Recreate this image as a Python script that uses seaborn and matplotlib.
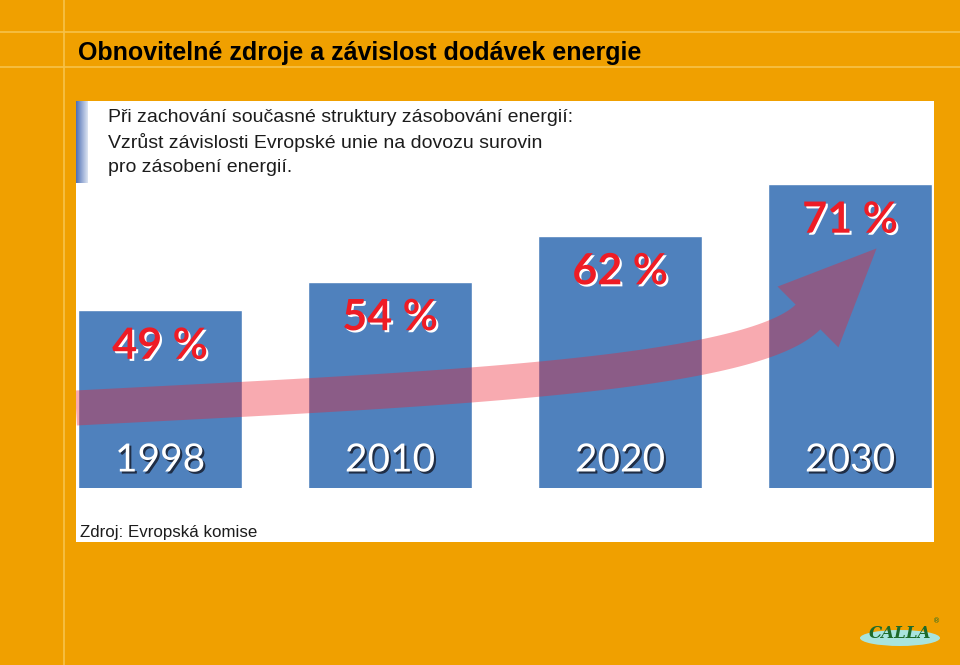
import numpy as np
import pandas as pd
import seaborn as sns
import matplotlib.pyplot as plt
from matplotlib import patheffects
from matplotlib.lines import Line2D
from matplotlib.patches import Rectangle, Polygon, Ellipse

# data
years = ["1998", "2010", "2020", "2030"]
shares = [49, 54, 62, 71]
title = "Obnovitelné zdroje a závislost dodávek energie"
intro = ["Při zachování současné struktury zásobování energií:",
         "Vzrůst závislosti Evropské unie na dovozu surovin",
         "pro zásobení energií."]
source = "Zdroj: Evropská komise"

W, H = 960, 665


def fx(px):
    return px / W


def fy(py):
    return 1 - py / H


sns.set_style("white")
fig = plt.figure(figsize=(9.6, 6.65), dpi=100)
fig.patch.set_facecolor("#F0A000")

# slide guide lines
for y in (32, 67):
    fig.add_artist(Line2D([0, 1], [fy(y), fy(y)], color="#F7C24A", lw=1.2, zorder=-2))
fig.add_artist(Line2D([fx(64), fx(64)], [0, 1], color="#F7C24A", lw=1.2, zorder=-2))

fig.text(fx(78), fy(53), title, ha="left", va="center", fontsize=18,
         weight="bold", family=["Liberation Sans Narrow", "Liberation Sans"],
         color="black")

# white picture panel
fig.add_artist(Rectangle((fx(76), fy(542)), fx(934) - fx(76), fy(101) - fy(542),
                         transform=fig.transFigure, fc="white", ec="none", zorder=-1))

# blue gradient strip next to the intro text
ax_g = fig.add_axes([fx(76), fy(183), fx(88) - fx(76), fy(101) - fy(183)])
grad = np.linspace(0, 1, 50).reshape(1, -1)
ax_g.imshow(grad, aspect="auto", cmap=sns.blend_palette(["#4E6FB5", "#DCE4F2"], as_cmap=True))
ax_g.axis("off")

for k, line in enumerate(intro):
    fig.text(fx(108), fy(117 + k * 25.5), line, ha="left", va="center",
             fontsize=14, family="Liberation Sans", color="#1C1C1C")

fig.text(fx(80), fy(533), source, ha="left", va="center", fontsize=12.2,
         family="Liberation Sans", color="#1C1C1C")

# bars
ax = fig.add_axes([fx(76), fy(488), fx(934) - fx(76), fy(101) - fy(488)])
ax.patch.set_alpha(0)
df = pd.DataFrame({"year": years, "share": shares})
sns.barplot(data=df, x="year", y="share", color="#4F81BD", saturation=1,
            width=0.713, ax=ax)
ax.set_xlim(-0.365, 3.365)
ax.set_ylim(18, 85.5)
ax.axis("off")

# decorative trend arrow: cubic curve shaft + head, one translucent shape
P = np.array([[76, 408], [420, 390], [748, 377], [808, 317]], dtype=float)
t = np.linspace(0, 1, 80)[:, None]
curve = ((1 - t) ** 3 * P[0] + 3 * (1 - t) ** 2 * t * P[1]
         + 3 * (1 - t) * t ** 2 * P[2] + t ** 3 * P[3])
deriv = (3 * (1 - t) ** 2 * (P[1] - P[0]) + 6 * (1 - t) * t * (P[2] - P[1])
         + 3 * t ** 2 * (P[3] - P[2]))
tang = deriv / np.linalg.norm(deriv, axis=1, keepdims=True)
norm = np.column_stack([-tang[:, 1], tang[:, 0]])
half_w, head_half, head_len = 17.5, 43, 97
side_a = curve + norm * half_w
side_b = curve - norm * half_w
end, d, n = curve[-1], tang[-1], norm[-1]
head = np.array([end + n * head_half, end + d * head_len, end - n * head_half])
outline = np.vstack([side_a, head, side_b[::-1]])
outline_fig = np.column_stack([fx(outline[:, 0]), fy(outline[:, 1])])
ax.add_patch(Polygon(outline_fig, closed=True, transform=fig.transFigure,
                     fc="#EE2030", ec="none", alpha=0.38))

red_fx = [patheffects.withSimplePatchShadow(offset=(1.5, -1.5), shadow_rgbFace="white", alpha=1)]
white_fx = [patheffects.withSimplePatchShadow(offset=(1.5, -1.5), shadow_rgbFace="#1A2438", alpha=0.9)]
for i, (yr, v) in enumerate(zip(years, shares)):
    ax.text(i, v - 6.2, f"{v} %", ha="center", va="center", fontsize=31,
            weight="bold", family="Lato", color="#EE1C25", path_effects=red_fx)
    ax.text(i, 22.8, yr, ha="center", va="center", fontsize=28,
            family="Lato", color="white", path_effects=white_fx)

# logo
fig.add_artist(Ellipse((fx(900), fy(638)), fx(80), 16 / H, transform=fig.transFigure,
                       fc="#A9E4DE", ec="none"))
fig.text(fx(900), fy(633), "CALLA", ha="center", va="center", fontsize=12,
         style="italic", weight="bold", family="DejaVu Serif", color="#1D6A2A")
fig.text(fx(937), fy(621), "®", ha="center", va="center", fontsize=5, color="#1D6A2A")

fig.savefig("out.png", dpi=100, facecolor=fig.get_facecolor())
